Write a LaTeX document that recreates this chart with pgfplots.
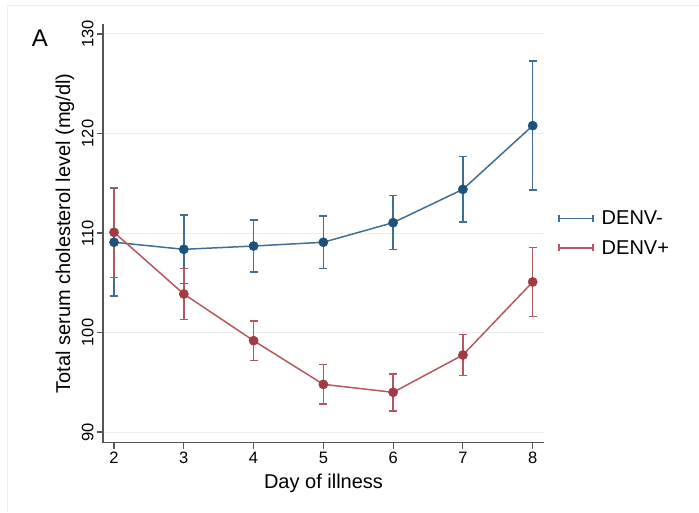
\documentclass[border=0pt]{standalone}
\usepackage{pgfplots}
\pgfplotsset{compat=1.18}
\usepackage{fontspec}
\setmainfont{Liberation Sans}
\definecolor{dblue}{RGB}{31,82,122}
\definecolor{lblue}{RGB}{66,110,148}
\definecolor{dred}{RGB}{162,58,68}
\definecolor{lred}{RGB}{180,88,96}
\definecolor{gridc}{RGB}{232,238,242}
\definecolor{axc}{RGB}{85,85,85}
\begin{document}
\begin{tikzpicture}[x=1pt,y=1pt]
\path[use as bounding box] (-103,-69.3) rectangle (596,442.7);
\draw[gridc, line width=0.8pt] (-96,-69.3) -- (-96,437.7) -- (596,437.7);
\node[font=\fontsize{24}{28}\selectfont] at (-63,404.7) {A};
\begin{axis}[
 scale only axis, width=441pt, height=418.7pt,
 xmin=1.842, xmax=8.162, ymin=88.925, ymax=131.005,
 axis x line*=bottom, axis y line*=left,
 axis line style={axc, line width=1.1pt, -},
 xtick={2,...,8}, ytick={90,100,...,130},
 tick style={axc, line width=1.1pt},
 major tick length=6pt, tick align=outside,
 ymajorgrids, grid style={gridc, line width=1pt},
 ticklabel style={font=\fontsize{16.5}{20}\selectfont},
 yticklabel style={rotate=90, anchor=south},
 /pgf/number format/assume math mode=true,
 xlabel={Day of illness}, ylabel={Total serum cholesterol level (mg/dl)},
 label style={font=\fontsize{20}{24}\selectfont},
 xlabel style={at={(axis description cs:0.5,-0.0963)}, anchor=center},
 ylabel style={at={(axis description cs:-0.0862,0.5)}, anchor=center},
 legend style={at={(axis description cs:1.025,0.5)}, anchor=west, draw=none, fill=none,
   font=\fontsize{20}{24}\selectfont, /tikz/every even column/.append style={column sep=2pt},
   nodes={inner sep=2pt}, row sep=10pt},
 legend cell align=left,
 clip=false,
]
\addplot[lblue, line width=1.5pt, mark=*, mark size=4.6pt, mark options={solid, draw=dblue, fill=dblue, line width=0.5pt},
  legend image code/.code={\draw[lblue, line width=1.5pt] (0pt,0pt)--(34pt,0pt) (0pt,-3.5pt)--(0pt,3.5pt) (34pt,-3.5pt)--(34pt,3.5pt);},
  error bars/.cd, y dir=both, y explicit,
  error bar style={lblue, line width=1.5pt},
  error mark options={rotate=90, lblue, mark size=4pt, line width=1.5pt}]
  coordinates {
  (2,109.07) +- (0,5.40)
  (3,108.36) +- (0,3.43)
  (4,108.69) +- (0,2.62)
  (5,109.07) +- (0,2.64)
  (6,111.04) +- (0,2.71)
  (7,114.39) +- (0,3.30)
  (8,120.79) +- (0,6.48)
  };
\addlegendentry{\hspace{6pt}DENV-}
\addplot[lred, line width=1.5pt, mark=*, mark size=4.6pt, mark options={solid, draw=dred, fill=dred, line width=0.5pt},
  legend image code/.code={\draw[lred, line width=1.5pt] (0pt,0pt)--(34pt,0pt) (0pt,-3.5pt)--(0pt,3.5pt) (34pt,-3.5pt)--(34pt,3.5pt);},
  error bars/.cd, y dir=both, y explicit,
  error bar style={lred, line width=1.5pt},
  error mark options={rotate=90, lred, mark size=4pt, line width=1.5pt}]
  coordinates {
  (2,110.07) +- (0,4.52)
  (3,103.87) +- (0,2.56)
  (4,99.18) +- (0,2.00)
  (5,94.79) +- (0,1.97)
  (6,93.99) +- (0,1.86)
  (7,97.74) +- (0,2.05)
  (8,105.08) +- (0,3.45)
  };
\addlegendentry{\hspace{6pt}DENV+}
\end{axis}
\end{tikzpicture}
\end{document}
